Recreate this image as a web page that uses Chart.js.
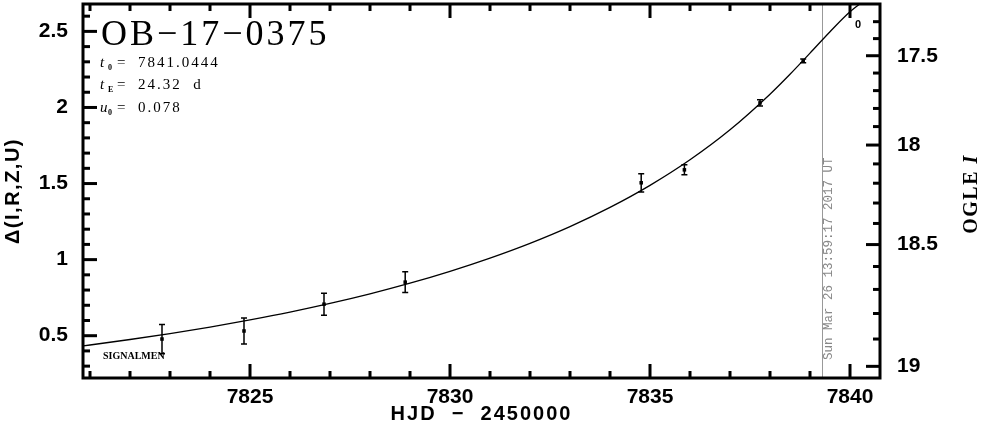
<!DOCTYPE html>
<html>
<head>
<meta charset="utf-8">
<script src="https://cdn.jsdelivr.net/npm/chart.js@4.4.1/dist/chart.umd.min.js"></script>
<style>
  html, body { margin: 0; padding: 0; background: #fff; }
  #wrap { width: 985px; height: 434px; }
</style>
</head>
<body>
<div id="wrap"><canvas id="lightCurve"></canvas></div>
<script>
// OB-17-0375 light curve, HJD - 2450000 vs delta magnitude
const eventName = "OB\u221217\u22120375";
const paramRows = [
  ["t", "0", "=", "7841.0444"],
  ["t", "E", "=", "24.32  d"],
  ["u", "0", "=", "0.078"]
];
const teamLabel = "SIGNALMEN";

// observed points
const obsHjd = [7822.8, 7824.85, 7826.85, 7828.88, 7834.78, 7835.86, 7837.75, 7838.83];
const obsDelta = [0.478, 0.531, 0.707, 0.852, 1.505, 1.59, 2.03, 2.306];
const obsErr = [0.096, 0.085, 0.072, 0.068, 0.06, 0.033, 0.02, 0.012];

// model curve
const modelHjd = [7820.75, 7821, 7822, 7823, 7824, 7825, 7826, 7827, 7828, 7829, 7830, 7831,
  7832, 7833, 7834, 7835, 7836, 7837, 7838, 7838.5, 7839, 7839.5, 7840, 7840.5];
const modelDelta = [0.431, 0.439, 0.475, 0.514, 0.557, 0.604, 0.655, 0.712, 0.775, 0.845, 0.923, 1.010,
  1.107, 1.217, 1.343, 1.488, 1.656, 1.853, 2.087, 2.218, 2.357, 2.498, 2.629, 2.730];

// axis ticks
const xTicks = [7825, 7830, 7835, 7840];
const yTicks = [0.5, 1, 1.5, 2, 2.5];
const ogleTicks = [17.5, 18, 18.5, 19];
const ogleMinor = [17.3, 17.4, 17.5, 17.6, 17.7, 17.8, 17.9, 18, 18.1, 18.2, 18.3, 18.4, 18.5,
  18.6, 18.7, 18.8, 18.9, 19, 19.1];

// OGLE I baseline and blending used for the right axis
const ogleBase = 19.15;
const ogleBlend = 0.468;
function magToDelta(m) {
  const f = Math.pow(10, -0.4 * (m - ogleBase));
  return 2.5 * Math.log10((f - 1 + ogleBlend) / ogleBlend);
}

const nowHjd = 7839.3;
const nowLabel = "Sun Mar 26 13:59:17 2017 UT";

const tickFont = { family: "'Liberation Sans', Arial, sans-serif", size: 21, weight: 'bold' };

// no extra room for end labels, the frame fills the canvas
function noPad(scale) {
  scale.paddingTop = 0;
  scale.paddingBottom = 0;
  scale.paddingLeft = 0;
  scale.paddingRight = 0;
}

const decorPlugin = {
  id: 'decor',
  beforeDatasetsDraw(chart) {
    const ctx = chart.ctx;
    const a = chart.chartArea;
    const x = Math.round(chart.scales.x.getPixelForValue(nowHjd)) + 0.5;
    ctx.save();
    ctx.strokeStyle = '#999';
    ctx.lineWidth = 1;
    ctx.beginPath();
    ctx.moveTo(x, a.top);
    ctx.lineTo(x, a.bottom);
    ctx.stroke();
    ctx.translate(x + 9, a.bottom - 18);
    ctx.rotate(-Math.PI / 2);
    ctx.fillStyle = '#888';
    ctx.font = "12.5px 'Liberation Mono', 'DejaVu Sans Mono', monospace";
    ctx.textBaseline = 'alphabetic';
    ctx.textAlign = 'left';
    ctx.fillText(nowLabel, 0, 0);
    ctx.restore();
  },
  afterDatasetsDraw(chart) {
    const ctx = chart.ctx;
    const xs = chart.scales.x, ys = chart.scales.y;
    ctx.save();
    ctx.strokeStyle = '#000';
    ctx.lineWidth = 1.5;
    obsHjd.forEach((t, i) => {
      const x = xs.getPixelForValue(t);
      const y1 = ys.getPixelForValue(obsDelta[i] + obsErr[i]);
      const y2 = ys.getPixelForValue(obsDelta[i] - obsErr[i]);
      ctx.beginPath();
      ctx.moveTo(x, y1); ctx.lineTo(x, y2);
      ctx.moveTo(x - 3, y1); ctx.lineTo(x + 3, y1);
      ctx.moveTo(x - 3, y2); ctx.lineTo(x + 3, y2);
      ctx.stroke();
    });
    ctx.restore();
  },
  afterDraw(chart) {
    const ctx = chart.ctx;
    const a = chart.chartArea;
    const xs = chart.scales.x, ys = chart.scales.y;
    ctx.save();
    ctx.strokeStyle = '#000';
    ctx.lineWidth = 3;
    ctx.strokeRect(a.left, a.top, a.right - a.left, a.bottom - a.top);

    // x ticks, bottom and top, pointing inward
    for (let t = Math.ceil(xs.min); t <= xs.max; t++) {
      const x = xs.getPixelForValue(t);
      const len = t % 5 === 0 ? 14 : 7;
      ctx.beginPath();
      ctx.moveTo(x, a.bottom); ctx.lineTo(x, a.bottom - len);
      ctx.moveTo(x, a.top); ctx.lineTo(x, a.top + len);
      ctx.stroke();
    }
    // left ticks every 0.1
    for (let k = Math.ceil(ys.min * 10); k <= ys.max * 10; k++) {
      const y = ys.getPixelForValue(k / 10);
      const len = k % 5 === 0 ? 14 : 7;
      ctx.beginPath();
      ctx.moveTo(a.left, y); ctx.lineTo(a.left + len, y);
      ctx.stroke();
    }
    // right (OGLE I) ticks
    ogleMinor.forEach((m) => {
      const d = magToDelta(m);
      if (d < ys.min || d > ys.max) return;
      const y = ys.getPixelForValue(d);
      const major = Math.abs(m * 2 - Math.round(m * 2)) < 1e-6;
      const len = major ? 14 : 7;
      ctx.beginPath();
      ctx.moveTo(a.right, y); ctx.lineTo(a.right - len, y);
      ctx.stroke();
    });

    // axis titles
    ctx.fillStyle = '#000';
    ctx.font = "bold 20px 'Liberation Sans', Arial, sans-serif";
    ctx.letterSpacing = '2px';
    ctx.textAlign = 'center';
    ctx.textBaseline = 'alphabetic';
    ctx.fillText("HJD  \u2212  2450000", (a.left + a.right) / 2, 420);

    ctx.save();
    ctx.translate(19, (a.top + a.bottom) / 2);
    ctx.rotate(-Math.PI / 2);
    ctx.letterSpacing = '1.5px';
    ctx.fillText("\u0394(I,R,Z,U)", 0, 0);
    ctx.restore();

    ctx.save();
    ctx.translate(977, (a.top + a.bottom) / 2 + 3);
    ctx.rotate(-Math.PI / 2);
    ctx.letterSpacing = '1.5px';
    ctx.font = "bold 20px 'Liberation Serif', serif";
    ctx.textAlign = 'left';
    const w1 = ctx.measureText("OGLE ").width;
    ctx.font = "italic bold 20px 'Liberation Serif', serif";
    const w2 = ctx.measureText("I").width;
    const x0 = -(w1 + w2) / 2;
    ctx.font = "bold 20px 'Liberation Serif', serif";
    ctx.fillText("OGLE ", x0, 0);
    ctx.font = "italic bold 20px 'Liberation Serif', serif";
    ctx.fillText("I", x0 + w1, 0);
    ctx.restore();

    // event name and parameters
    ctx.textAlign = 'left';
    ctx.letterSpacing = '3px';
    ctx.font = "36px 'Liberation Serif', serif";
    ctx.fillText(eventName, 101, 45);

    ctx.letterSpacing = '2px';
    const rowBase = [67, 89, 112];
    paramRows.forEach((r, i) => {
      const yb = rowBase[i];
      ctx.font = "italic 15px 'Liberation Serif', serif";
      ctx.fillText(r[0], 100, yb);
      ctx.font = "bold 8px 'Liberation Serif', serif";
      ctx.letterSpacing = '0px';
      ctx.fillText(r[1], 108, yb + 3);
      ctx.letterSpacing = '2px';
      ctx.font = "15px 'Liberation Serif', serif";
      ctx.fillText(r[2], 117, yb);
      ctx.fillText(r[3], 138, yb);
    });

    ctx.letterSpacing = '0px';
    ctx.font = "bold 10px 'Liberation Serif', serif";
    ctx.fillText(teamLabel, 103, 359);
    ctx.font = "bold 11px 'Liberation Sans', sans-serif";
    ctx.fillText("0", 855, 28);
    ctx.restore();
  }
};

const ctx = document.getElementById("lightCurve").getContext("2d");

new Chart(ctx, {
  type: "scatter",
  data: {
    datasets: [
      {
        label: "model",
        data: modelHjd.map((t, i) => ({ x: t, y: modelDelta[i] })),
        showLine: true,
        borderColor: "#000",
        borderWidth: 1.3,
        pointRadius: 0,
        cubicInterpolationMode: "monotone",
        order: 2
      },
      {
        label: "SIGNALMEN",
        data: obsHjd.map((t, i) => ({ x: t, y: obsDelta[i] })),
        pointStyle: "rect",
        pointRadius: 2.5,
        backgroundColor: "#000",
        borderColor: "#000",
        borderWidth: 0,
        order: 1
      }
    ]
  },
  options: {
    responsive: true,
    maintainAspectRatio: false,
    animation: false,
    layout: { padding: { top: 2, left: 0, right: 0, bottom: 0 } },
    plugins: {
      legend: { display: false },
      tooltip: { enabled: false }
    },
    scales: {
      x: {
        type: "linear",
        position: "bottom",
        min: 7820.825,
        max: 7840.75,
        grid: { display: false, drawTicks: false },
        border: { display: false },
        afterBuildTicks: (scale) => { scale.ticks = xTicks.map((v) => ({ value: v })); },
        afterFit: (scale) => { scale.height = 56; noPad(scale); },
        ticks: {
          autoSkip: false,
          maxRotation: 0,
          padding: 7,
          color: "#000",
          font: tickFont,
          callback: (v) => String(v)
        }
      },
      y: {
        type: "linear",
        position: "left",
        min: 0.222,
        max: 2.68,
        grid: { display: false, drawTicks: false },
        border: { display: false },
        afterBuildTicks: (scale) => { scale.ticks = yTicks.map((v) => ({ value: v })); },
        afterFit: (scale) => { scale.width = 83; noPad(scale); },
        ticks: {
          autoSkip: false,
          padding: 15,
          color: "#000",
          font: tickFont,
          callback: (v) => String(v)
        }
      },
      y2: {
        type: "linear",
        position: "right",
        min: 0.222,
        max: 2.68,
        grid: { display: false, drawTicks: false },
        border: { display: false },
        afterBuildTicks: (scale) => { scale.ticks = ogleTicks.map((m) => ({ value: magToDelta(m) })); },
        afterFit: (scale) => { scale.width = 105; noPad(scale); },
        ticks: {
          autoSkip: false,
          padding: 17,
          color: "#000",
          font: tickFont,
          callback: (v, i) => String(ogleTicks[i])
        }
      }
    }
  },
  plugins: [decorPlugin]
});
</script>
</body>
</html>
